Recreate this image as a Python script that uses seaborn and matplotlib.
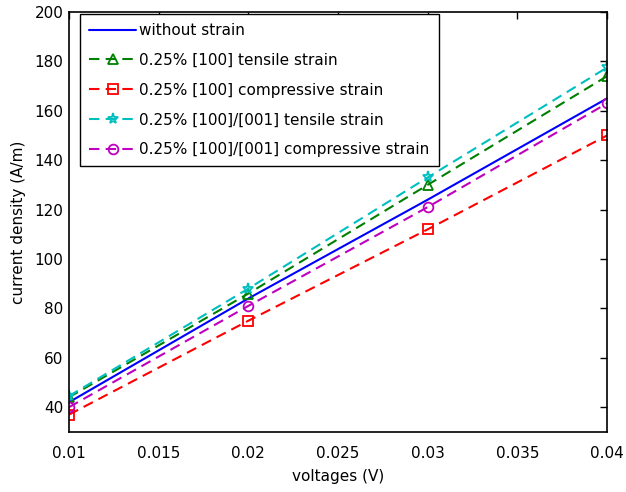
import matplotlib
matplotlib.use("Agg")
import matplotlib.pyplot as plt
import seaborn as sns
import pandas as pd

voltages = [0.01, 0.02, 0.03, 0.04]
without_strain = [42, 84, 124, 165]
tensile_100 = [44, 86, 130, 174]
compressive_100 = [37, 75, 112, 150]
tensile_100_001 = [44.5, 88, 133, 177.5]
compressive_100_001 = [40, 81, 121, 163]

labels = ["without strain",
          "0.25% [100] tensile strain",
          "0.25% [100] compressive strain",
          "0.25% [100]/[001] tensile strain",
          "0.25% [100]/[001] compressive strain"]
series = [without_strain, tensile_100, compressive_100, tensile_100_001, compressive_100_001]
colors = ["#0000ff", "#008000", "#ff0000", "#00bfbf", "#bf00bf"]
markers = [None, "^", "s", "*", "o"]
styles = ["-", (0, (5, 3)), (0, (5, 3)), (0, (5, 3)), (0, (5, 3))]

sns.set_style("white")
plt.rcParams['font.family'] = ['DejaVu Sans']
plt.rcParams['text.color'] = 'black'
plt.rcParams['axes.labelcolor'] = 'black'
plt.rcParams['xtick.color'] = 'black'
plt.rcParams['ytick.color'] = 'black'

fig = plt.figure(figsize=(6.26, 4.92), dpi=100)
ax = fig.add_axes([0.110, 0.122, 0.860, 0.854])

for lab, vals, c, m, ls in zip(labels, series, colors, markers, styles):
    df = pd.DataFrame({"v": voltages, "j": vals})
    sns.lineplot(data=df, x="v", y="j", ax=ax, color=c, linestyle=ls, linewidth=1.5,
                 marker=m if m else "", markersize=7 if m != "*" else 8,
                 markerfacecolor="none", markeredgecolor=c, markeredgewidth=1.3,
                 label=lab)

ax.set_xlim(0.01, 0.04)
ax.set_ylim(30, 200)
ax.set_xticks([0.01, 0.015, 0.02, 0.025, 0.03, 0.035, 0.04])
ax.set_xticklabels(["0.01", "0.015", "0.02", "0.025", "0.03", "0.035", "0.04"])
ax.set_yticks([40, 60, 80, 100, 120, 140, 160, 180, 200])
ax.tick_params(direction="in", length=5, width=1, labelsize=11, top=True, right=True,
               colors="black")
ax.tick_params(axis="x", pad=10)
ax.tick_params(axis="y", pad=4)
for sp in ax.spines.values():
    sp.set_visible(True)
    sp.set_color("black")
    sp.set_linewidth(1.2)
ax.set_xlabel("voltages (V)", fontsize=11, labelpad=6, color="black")
ax.set_ylabel("current density (A/m)", fontsize=11, labelpad=6, color="black")

leg = ax.legend(loc="upper left", bbox_to_anchor=(11 / 538, 1 - 2 / 420), borderaxespad=0,
                fontsize=11, frameon=True, fancybox=False, borderpad=0.6,
                edgecolor="black", framealpha=1, handlelength=3.1, handletextpad=0.2,
                labelspacing=0.97)
leg.get_frame().set_linewidth(1.0)
for t in leg.get_texts():
    t.set_color("black")

fig.savefig("out.png", dpi=100)
